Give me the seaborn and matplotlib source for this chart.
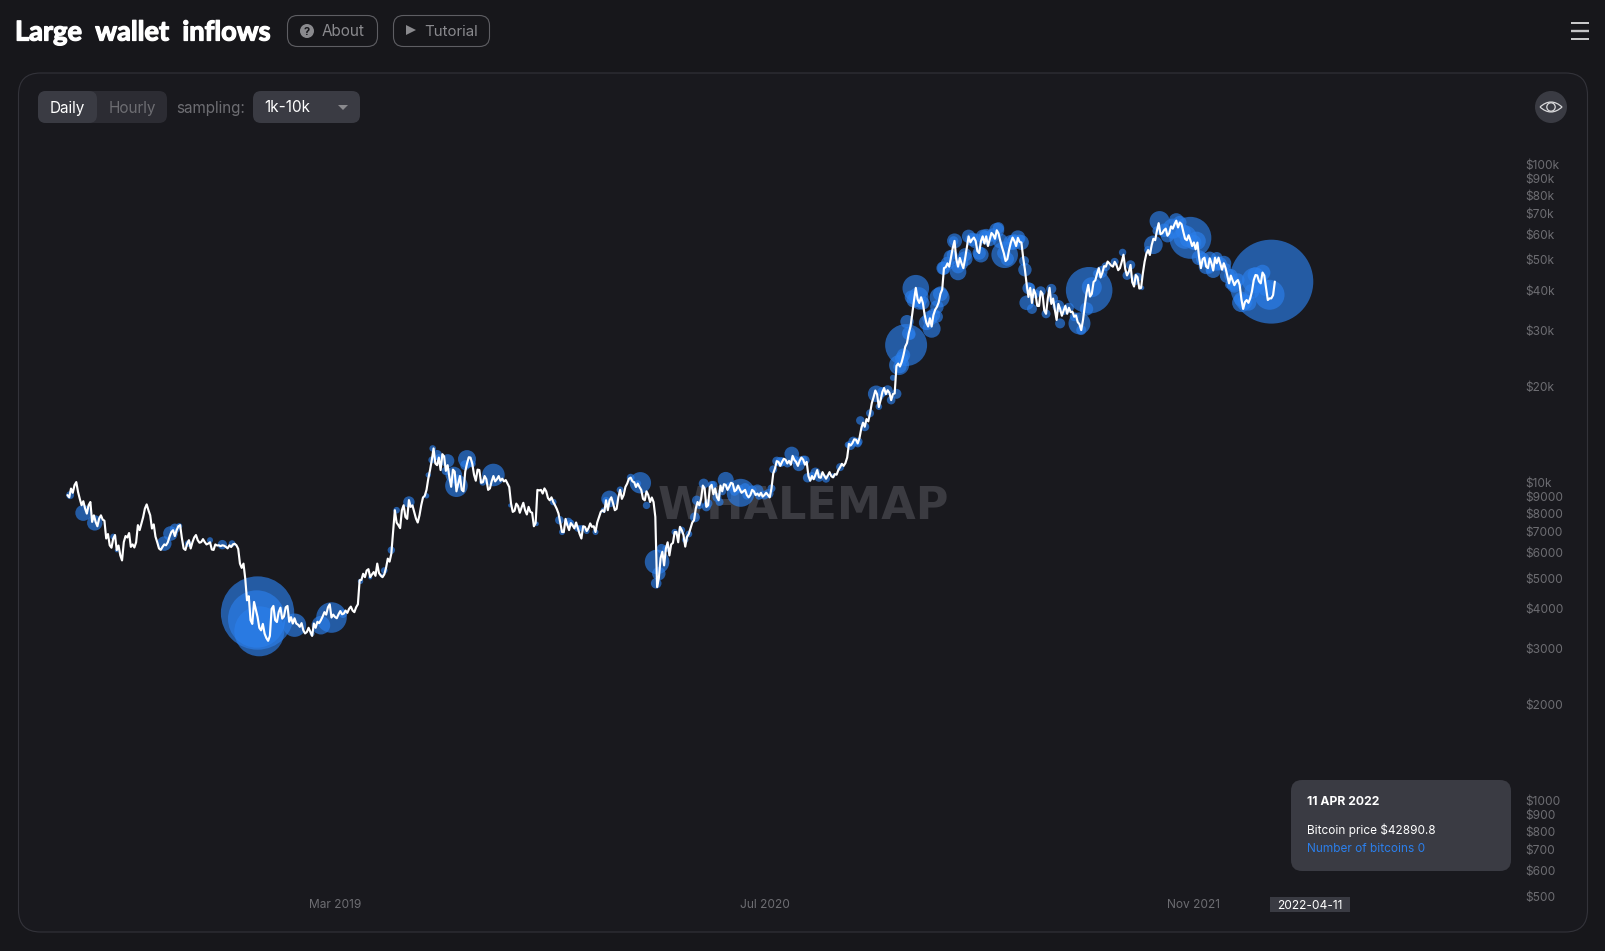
import matplotlib.pyplot as plt
from matplotlib.patches import FancyBboxPatch, Circle, Polygon, Rectangle, PathPatch
from matplotlib.path import Path
from matplotlib.transforms import ScaledTranslation
import matplotlib.patheffects as pe
import pandas as pd
import seaborn as sns

START_DATE = '2018-05-01'
STEP_DAYS = 2

# bitcoin price in usd, one reading every 2 days
prices = [
    9145, 9000, 9590, 9300, 9830, 10050, 9360, 8900, 8500, 8750, 8300, 8000, 8500, 8700, 7535, 7900,
    7535, 7300, 7720, 7900, 7660, 7600, 6680, 6900, 6360, 6250, 6680, 6850, 6140, 6350, 5915, 5700,
    6510, 6800, 6730, 6950, 6287, 6400, 6260, 6500, 7360, 7100, 7450, 7800, 8300, 8550, 8200, 7900,
    7180, 7400, 6770, 6500, 6215, 6150, 6287, 6400, 6360, 6500, 6770, 7000, 7094, 6800, 7094, 7300,
    7360, 6700, 6215, 6150, 6440, 6600, 6215, 6500, 6730, 6850, 6600, 6480, 6510, 6650, 6510, 6400,
    6440, 6500, 6170, 6150, 6400, 6350, 6360, 6320, 6360, 6340, 6287, 6220, 6360, 6280, 6400, 6430,
    6360, 6200, 5570, 5400, 5570, 5000, 4270, 4400, 3700, 3600, 4220, 4000, 3785, 3500, 3436, 3600,
    3355, 3250, 3185, 3300, 4015, 4100, 3700, 3650, 3920, 4050, 3740, 3800, 4060, 4100, 3655, 3780,
    3610, 3750, 3610, 3580, 3525, 3620, 3436, 3360, 3395, 3500, 3395, 3300, 3610, 3500, 3655, 3620,
    3700, 3800, 3920, 3850, 4060, 4150, 3770, 3850, 3785, 3750, 3860, 3950, 3860, 3880, 3965, 3900,
    4015, 4080, 3965, 3920, 4060, 4150, 4938, 4950, 5175, 5050, 5300, 5350, 5050, 5150, 5240, 5100,
    5570, 5200, 5110, 5050, 5150, 5400, 5775, 5650, 5985, 7000, 8200, 7500, 7360, 7200, 8200, 8500,
    7810, 7700, 8820, 8400,
    8490, 8100, 7720, 7500, 7900, 8500, 8990, 9100, 9500, 10300, 10965, 11800, 12820, 11500, 11360, 12000,
    10965, 12300, 12100, 10900, 11360, 10400, 9715, 11000, 10840, 9400, 9940, 10500, 9500, 9400, 10840, 11500,
    12030, 12000, 11470, 10600, 10150, 11000, 10965, 10000, 10040, 10500, 10260, 9500, 9600, 10100, 10500, 10100,
    10260, 10500, 10150, 10300, 10100, 10200, 9940, 9700, 8610, 8100, 8160, 8600, 8450, 8050, 8360, 8650,
    8200, 7950, 8400, 8100, 8050, 7300, 7470, 9500, 9460, 9500, 9250, 9600, 9400, 8950, 8810, 9000,
    8700, 8500, 8280, 8000, 7470, 7000, 7000, 7700, 7360, 7100, 7470, 7350, 7190, 7500, 7190, 6900,
    6680, 7300, 7270, 7050, 7190, 7450, 7270, 7300, 7000, 7500, 7790, 8100, 8200, 8100, 8810, 8200,
    8810, 9000, 8610, 8200, 8280, 9000, 9500, 8900, 9150, 9700, 9940, 10300, 10380, 10100, 10040, 9700,
    9940, 9700, 9500, 8900, 8810, 9400, 9150, 8700, 8990, 8700, 7810, 4700, 5015, 5800, 6070, 5500,
    6210, 6500, 5910, 6400, 6470, 7000, 7000, 6500, 7270, 7100, 6850, 6300, 6762, 6900, 7190, 7500,
    7630, 8300, 8700, 8500, 8900, 9800, 9600, 8400, 8500, 9700, 9850, 9200, 9600, 9000, 8810, 9800,
    9400, 9900, 9850, 9500, 9715, 10000, 9940, 9400, 9500, 9800, 9550, 9300, 9400, 9500, 9150, 9000,
    9150, 9500, 9400, 9150, 9250, 9100, 9300, 9050, 9150, 9300, 9150, 9000, 9600, 10700, 11100, 11700,
    11630, 11300, 11630, 11900, 11820, 11500, 11720, 11400, 12150, 11800, 11630, 11300, 11720, 12000, 11820, 11400,
    11630, 10500, 10150, 10500, 10260, 10600, 10965, 10400, 10370, 10800, 10530, 10300, 10530, 10800, 10490, 10400,
    10650, 10600, 10965, 11200, 11470, 11300, 11530, 12000, 13250,
    13100, 13330, 13700, 13660, 13300, 13820, 14800, 15450, 15000, 15860, 15600, 16540, 17800, 18580, 19500, 18980,
    17300, 18190, 19300, 19860, 19000, 19540, 19200, 18190, 19000, 19100, 23300, 23700, 23200, 23980, 25200, 26780,
    27500, 29490, 31000, 33980, 37500, 41000, 37800, 36760, 38300, 36760, 33800, 31870, 31000, 32900, 31000, 33640,
    35000, 35710, 36900, 39260, 40500, 47300, 47600, 48950, 47800, 51130, 54700, 57600, 50500, 47800, 50900, 48950,
    47300, 50630, 55000, 59540, 57000, 58200, 59000, 57600, 53500, 52750, 57500, 59540, 56500, 59540, 55500, 58200,
    61000, 60150, 58500, 62200, 60800, 57600, 55000, 52750, 49800, 50500, 54000, 56950, 59000, 57600, 55500, 58900,
    57200, 56950, 51000, 46750, 42000, 38400, 41000, 36760, 40500, 39260, 36000, 35950, 40000, 39260, 34800, 33980,
    38000, 41000, 36500, 37950, 35000, 32500, 36500, 35200, 33500, 34800, 36000, 33980, 35500, 34380, 34500, 33270,
    33600, 32000, 31500, 30200, 32500, 35950, 39500, 41900, 38500, 39260, 42800, 43320, 45500, 47300, 44200, 45700,
    48000, 47800, 49600, 48950, 48200, 47800, 49500, 48400, 46600, 47300, 49500, 52100, 47000, 44860, 46000, 48400,
    42800, 41400, 45000, 44300, 40800, 41000, 45500, 49500, 52500, 53930, 52000, 55800, 58500, 57900, 62000, 65500,
    60500, 60850, 62200, 62950, 59800, 60850, 64000, 62950, 65000, 66700, 63500, 65800, 65000, 61500, 58500, 57900,
    60000, 57900, 55500, 56950, 54200, 56900, 51000, 47300, 50500, 51000, 47800, 47300, 50800, 48950, 46500, 51000,
    49000, 51000, 48800, 46750, 49000, 47300, 44800, 42360, 44800, 43320, 41800, 42850, 43400, 41900, 37800, 35200,
    37000, 37540, 36800, 38000, 40000, 43320, 45000, 44860, 43000, 42360, 45800, 44860, 41000, 37540, 38000, 38000,
    38900, 42890.8,
]

# large wallet inflows: days since START_DATE, price at that day, bitcoins moved
bubble_days = [
    3, 18, 31, 52, 56, 110, 117, 122, 127, 137, 162, 176, 187, 216, 215, 218, 258, 288, 300, 278,
    313, 333, 344, 360, 357, 368, 374, 388, 408, 410, 415, 420, 432, 439, 442, 454, 452, 484, 503, 533,
    552, 559, 569, 584, 616, 609, 651, 658, 670, 675, 672, 669, 702, 713, 715, 723, 728, 734, 741, 748,
    765, 770, 784, 797, 802, 810, 823, 831, 838, 841, 850, 870, 887, 893, 899, 901, 919, 922, 936, 942,
    938, 953, 945, 948, 954, 958, 964, 967, 959, 982, 988, 991, 995, 1007, 1012, 1005, 1020, 1038, 1044, 1058,
    1065, 1075, 1082, 1087, 1092, 1090, 1096, 1118, 1128, 1126, 1161, 1150, 1158, 1164, 1175, 1199, 1208, 1213, 1221, 1234,
    1241, 1256, 1276, 1270, 1283, 1291, 1306, 1298, 1317, 1325, 1320, 1334, 1368, 1349, 1366,
]
bubble_prices = [
    9145, 8040, 7480, 6770, 6130, 6440, 6925, 7180, 7310, 6440, 6600, 6390, 6440, 3895, 3730, 3412, 3567, 3567, 3770, 3355,
    3877, 4900, 5040, 5300, 5110, 6140, 8200, 8700, 9100, 10580, 12820, 12230, 11720, 10580, 9790, 11870, 11360, 10580, 8490, 7430,
    8700, 7630, 7530, 7190, 8900, 8200, 10000, 8490, 5640, 6210, 5180, 4830, 6620, 7790, 8810, 9940, 8610, 9850, 8700, 10210,
    9300, 9600, 9460, 9250, 11020, 11630, 12320, 11360, 11770, 10370, 10770, 10530, 13170, 13470, 13470, 15700, 19040, 17350, 18190, 19040,
    21380, 27100, 23450, 24620, 32100, 29200, 40900, 38350, 38350, 30500, 33270, 38240, 47300, 57600, 46000, 52100, 52100, 52100, 59540, 63300,
    52100, 56950, 58200, 49800, 40900, 36800, 35200, 40700, 31700, 35950, 40300, 31700, 35200, 41200, 46000, 53000, 48400, 43000, 41000, 56000,
    66500, 62950, 58900, 59200, 57600, 49700, 51000, 46750, 47300, 42360, 41900, 36800, 42890, 43300, 39000,
]
bubble_btc = [
    160, 640, 593, 90, 40, 533, 533, 250, 90, 109, 90, 221, 109, 13469, 8237, 6250, 1369, 865, 2341, 62,
    185, 73, 40, 109, 40, 137, 109, 325, 73, 73, 109, 250, 449, 689, 1277, 810, 250, 1277, 40, 53,
    109, 185, 185, 109, 689, 73, 1145, 137, 1513, 221, 449, 281, 109, 250, 221, 250, 185, 160, 160, 640,
    1960, 281, 360, 221, 160, 250, 533, 360, 221, 221, 250, 53, 109, 250, 160, 185, 689, 109, 185, 250,
    90, 4410, 1000, 449, 449, 250, 1769, 1000, 449, 810, 360, 1000, 449, 221, 689, 250, 449, 593, 325, 325,
    1769, 533, 250, 250, 360, 533, 250, 250, 250, 360, 5429, 1210, 449, 1000, 360, 137, 221, 160, 53, 865,
    1000, 1000, 4410, 1369, 865, 360, 325, 160, 221, 533, 160, 865, 17640, 1613, 2250,
]

# smaller inflows that sit right on the price line
small_days = [
    414, 422, 430, 444, 460, 472, 562, 572, 580, 590, 600, 612, 628, 640, 648, 680, 690, 698, 706, 718,
    726, 732, 738, 744, 752, 758, 764, 772, 778, 786, 792, 800, 806, 812, 818, 826, 832, 836, 846, 854,
    862, 878, 890, 898, 906, 912, 926, 932, 946, 950, 956, 962, 968, 972, 976, 980, 984, 988, 992, 996,
    1000, 1004, 1008, 1012, 1016, 1020, 1024, 1028, 1032, 1036, 1040, 1044, 1048, 1052, 1056, 1060, 1064, 1068, 1072, 1076,
    1080, 1084, 1088, 1094, 1100, 1106, 1112, 1120, 1132, 1138, 1144, 1152, 1170, 1180, 1190, 1204, 1216, 1228, 1238, 1246,
    1250, 1260, 1264, 1268, 1272, 1280, 1286, 1290, 1294, 1298, 1302, 1306, 1310, 1314, 1318, 1322, 1326, 1330, 1334, 1338,
    1342, 1346, 1350, 1354, 1358, 1362,
]
small_btc = [
    120, 120, 180, 180, 120, 120, 90, 120, 120, 90, 90, 120, 120, 150, 120, 120, 100, 120, 120, 150,
    200, 160, 200, 160, 200, 200, 160, 200, 200, 160, 200, 160, 200, 200, 160, 200, 200, 160, 160, 200,
    160, 160, 200, 160, 200, 160, 250, 250, 450, 450, 450, 560, 450, 450, 560, 560, 450, 450, 560, 450,
    450, 560, 560, 450, 450, 560, 450, 450, 560, 450, 450, 560, 450, 450, 560, 560, 450, 450, 560, 450,
    560, 560, 450, 250, 200, 250, 200, 250, 200, 250, 200, 250, 160, 200, 160, 200, 200, 160, 200, 450,
    450, 560, 450, 560, 450, 560, 560, 450, 560, 450, 560, 560, 450, 560, 560, 450, 560, 450, 560, 560,
    620, 560, 620, 680, 620, 680,
]

x_tick_dates = ['2019-03-01', '2020-07-01', '2021-11-01']
x_tick_labels = ['Mar 2019', 'Jul 2020', 'Nov 2021']
y_tick_values = [500, 600, 700, 800, 900, 1000, 2000, 3000, 4000, 5000, 6000, 7000, 8000, 9000,
                 10000, 20000, 30000, 40000, 50000, 60000, 70000, 80000, 90000, 100000]
y_tick_labels = ['$500', '$600', '$700', '$800', '$900', '$1000', '$2000', '$3000', '$4000', '$5000',
                 '$6000', '$7000', '$8000', '$9000', '$10k', '$20k', '$30k', '$40k', '$50k', '$60k',
                 '$70k', '$80k', '$90k', '$100k']

W, H = 1606, 951
BG = '#17171b'
PANEL = '#19191e'
BOX = '#3a3b43'
PILL = '#2c2c33'
GREY = '#8a8a8e'
DIM = '#6d6d72'
BLUE = '#2b7fec'
FONT = ['Inter', 'DejaVu Sans']


def box(ax, x0, y0, x1, y1, r, face='none', edge='none', lw=1, z=1):
    ax.add_patch(FancyBboxPatch((x0 + r, y0 + r), x1 - x0 - 2 * r, y1 - y0 - 2 * r,
                                boxstyle='round,pad=%f,rounding_size=%f' % (r, r),
                                fc=face, ec=edge, lw=lw, zorder=z))


def label(ax, x, y, s, color='white', size=11, ha='left', **kw):
    ax.text(x, y, s, color=color, fontsize=size, ha=ha, va='center_baseline', **kw)


def draw_chrome(ax):
    ax.set_xlim(0, W)
    ax.set_ylim(H, 0)
    ax.axis('off')
    box(ax, 18.5, 73, 1587.5, 932, 22, PANEL, '#33333a', 0.8)

    title = ax.text(15, 40.5, 'Large  wallet  inflows', color='white', fontsize=19.6, fontweight='bold',
                    family=['Lato', 'DejaVu Sans'], va='baseline')
    title.set_path_effects([pe.withStroke(linewidth=0.9, foreground='white')])

    # header buttons
    box(ax, 287.5, 15.5, 377.5, 46.5, 10, edge='#5e5e63', lw=0.8)
    ax.add_patch(Circle((307, 31), 7, fc=GREY, ec='none', zorder=2))
    label(ax, 307, 31, '?', BG, 8, ha='center', fontweight='bold', zorder=3)
    label(ax, 322, 30.5, 'About', GREY, 11)
    box(ax, 393.5, 15.5, 489.5, 46.5, 10, edge='#5e5e63', lw=0.8)
    ax.add_patch(Polygon([(406, 25), (416, 30), (406, 35)], fc=GREY, ec='none', zorder=2))
    label(ax, 424.5, 30.5, 'Tutorial', GREY, 10.8)

    # chart controls
    box(ax, 38, 91, 167, 123, 8, PILL)
    box(ax, 38, 91, 97, 123, 8, BOX, z=2)
    label(ax, 67, 106.5, 'Daily', 'white', 11, ha='center', zorder=3)
    label(ax, 132, 106.5, 'Hourly', DIM, 11, ha='center', zorder=3)
    label(ax, 176.5, 106.5, 'sampling:', DIM, 11)
    box(ax, 253, 91, 360, 123, 8, BOX)
    label(ax, 264, 106.5, '1k-10k', 'white', 11, zorder=3)
    ax.add_patch(Polygon([(338, 105), (348, 105), (343, 110)], fc=GREY, ec='none', zorder=3))

    # eye button
    ax.add_patch(Circle((1551, 107), 16, fc=BOX, ec='none', zorder=2))
    lens = Path([(1540, 107), (1551, 97), (1562, 107), (1551, 117), (1540, 107)],
                [Path.MOVETO, Path.CURVE3, Path.CURVE3, Path.CURVE3, Path.CURVE3])
    ax.add_patch(PathPatch(lens, fc='none', ec='#d8d8da', lw=0.9, zorder=3))
    ax.add_patch(Circle((1551, 107), 4.2, fc='none', ec='#d8d8da', lw=0.9, zorder=3))

    # menu icon
    for y, c, lw in [(22.5, 'white', 1.1), (30.5, '#c4c4c6', 1.7), (39, 'white', 1.1)]:
        ax.plot([1571, 1589], [y, y], color=c, lw=lw, solid_capstyle='butt')

    ax.text(803, 519, 'WHALEMAP', color='#3b3b41', fontsize=32, fontweight='bold',
            family=['DejaVu Sans'], ha='center', va='baseline', zorder=2)


def draw_tooltip(ax):
    box(ax, 1291, 780, 1511, 871, 11, BOX, z=5)
    label(ax, 1307, 800.5, '11 APR 2022', 'white', 8.8, fontweight='bold', zorder=6)
    label(ax, 1307, 828.5, 'Bitcoin price $42890.8', 'white', 8.5, zorder=6)
    label(ax, 1307, 847.5, 'Number of bitcoins 0', BLUE, 8.5, zorder=6)
    ax.add_patch(Rectangle((1270, 897), 80, 15, fc=BOX, ec='none', zorder=5))
    label(ax, 1310, 904.5, '2022-04-11', 'white', 8.6, ha='center', zorder=6)


def main():
    """Main."""
    sns.set_theme(style='dark')
    plt.rcParams['font.family'] = FONT
    plt.rcParams['axes.grid'] = False

    fig = plt.figure(figsize=(W / 100, H / 100), dpi=100, facecolor=BG)

    chrome = fig.add_axes([0, 0, 1, 1], zorder=0)
    chrome.patch.set_visible(False)
    draw_chrome(chrome)

    # chart area in pixels, price and date scale pinned to the tick labels
    left, right, top, bottom = 40, 1523.5, 135, 896.6
    ax = fig.add_axes([left / W, 1 - bottom / H, (right - left) / W, (bottom - top) / H], zorder=1)
    ax.patch.set_visible(False)

    start = pd.Timestamp(START_DATE)
    dates = pd.date_range(start, periods=len(prices), freq='%dD' % STEP_DAYS)
    price_df = pd.DataFrame({'date': dates, 'price': prices})

    # small inflows take their price from the line itself
    days = bubble_days + small_days
    on_line = [prices[d // STEP_DAYS] for d in small_days]
    bubble_df = pd.DataFrame({'date': start + pd.to_timedelta(days, unit='D'),
                              'price': bubble_prices + on_line,
                              'btc': bubble_btc + small_btc})

    ax.set_yscale('log')
    btc = bubble_df['btc'].to_numpy()
    sns.scatterplot(data=bubble_df, x='date', y='price', size='btc',
                    sizes=(btc.min() * 0.207, btc.max() * 0.207), color=BLUE, alpha=0.65,
                    linewidth=0, legend=False, ax=ax, zorder=2)
    sns.lineplot(data=price_df, x='date', y='price', color='white', lw=1.55, errorbar=None,
                 ax=ax, zorder=3)

    px_per_day = 0.88
    march = pd.Timestamp(x_tick_dates[0])
    ax.set_xlim(march + pd.Timedelta(days=(left - 335) / px_per_day),
                march + pd.Timedelta(days=(right - 335) / px_per_day))
    ax.set_ylim(500, 10 ** (5 + (164.7 - top) / 318))

    ax.set_xticks(pd.to_datetime(x_tick_dates))
    ax.set_xticklabels(x_tick_labels)
    ax.yaxis.tick_right()
    ax.set_yticks(y_tick_values)
    ax.set_yticklabels(y_tick_labels)
    ax.minorticks_off()
    ax.tick_params(axis='both', which='both', length=0, colors=DIM, labelsize=8.6)
    ax.tick_params(axis='y', pad=1)
    ax.tick_params(axis='x', pad=2)
    ax.set_xlabel('')
    ax.set_ylabel('')
    sns.despine(ax=ax, left=True, bottom=True, right=True, top=True)

    # y labels sit half a pixel higher than the tick position
    lift = ScaledTranslation(0, 0.5 / 100, fig.dpi_scale_trans)
    for t in ax.get_yticklabels():
        t.set_transform(t.get_transform() + lift)

    over = fig.add_axes([0, 0, 1, 1], zorder=2)
    over.set_xlim(0, W)
    over.set_ylim(H, 0)
    over.axis('off')
    draw_tooltip(over)

    fig.savefig('out.png', dpi=100, facecolor=BG)


if __name__ == '__main__':
    main()
